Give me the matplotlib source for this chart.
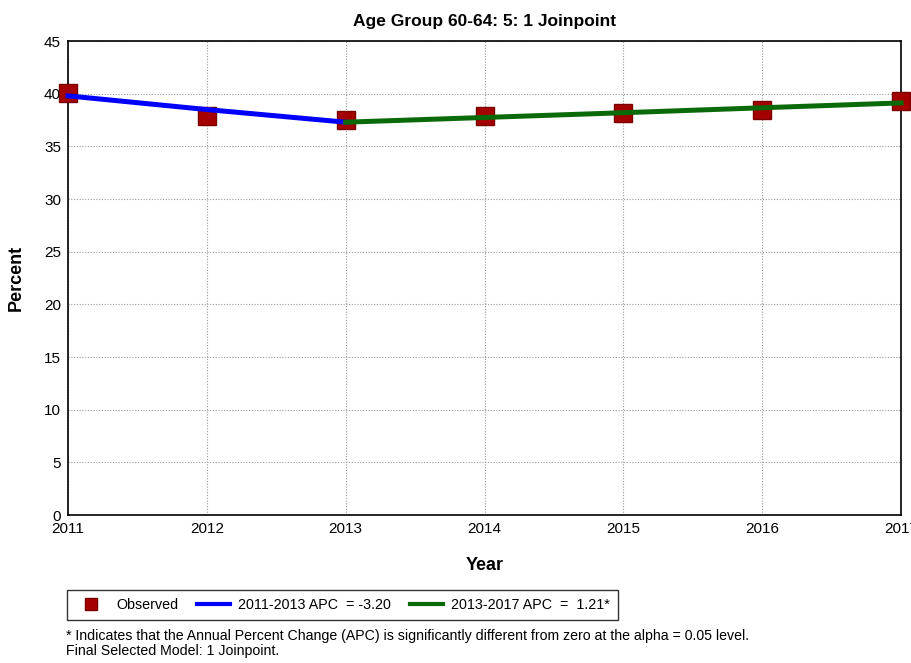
import matplotlib
matplotlib.use("Agg")
import matplotlib.pyplot as plt
from matplotlib.lines import Line2D

plt.rcParams["font.family"] = ["Liberation Sans", "DejaVu Sans"]

# observed percent by year
years = [2011, 2012, 2013, 2014, 2015, 2016, 2017]
observed = [40.1, 37.9, 37.5, 37.9, 38.2, 38.5, 39.3]

# joinpoint segments (fitted values)
seg1_years = [2011, 2012, 2013]
seg1_fit = [39.8, 38.5, 37.3]
seg2_years = [2013, 2014, 2015, 2016, 2017]
seg2_fit = [37.3, 37.75, 38.2, 38.67, 39.13]

seg1_label = "2011-2013 APC  = -3.20"
seg2_label = "2013-2017 APC  =  1.21*"

fig = plt.figure(figsize=(9.12, 6.63), dpi=100)
ax = fig.add_axes([0.0746, 0.2232, 0.9134, 0.7148])

ax.plot(years, observed, linestyle="none", marker="s", markersize=13,
        markerfacecolor="#a50000", markeredgecolor="#7a0000", zorder=3, clip_on=False)
ax.plot(seg1_years, seg1_fit, color="#0000ff", lw=3.6, zorder=4, clip_on=False)
ax.plot(seg2_years, seg2_fit, color="#0a6a0a", lw=3.6, zorder=4, clip_on=False)

ax.set_xlim(2011, 2017)
ax.set_ylim(0, 45)
ax.set_xticks(years)
ax.set_yticks(range(0, 46, 5))
ax.tick_params(length=0, labelsize=11, pad=5)
ax.grid(True, linestyle=(0, (1, 1.5)), color="#999999", lw=0.8)
for s in ax.spines.values():
    s.set_linewidth(1.2)

ax.set_title("Age Group 60-64: 5: 1 Joinpoint", fontsize=12.5, fontweight="bold", pad=11)
ax.set_xlabel("Year", fontsize=13, fontweight="bold", labelpad=15)
ax.set_ylabel("Percent", fontsize=13, fontweight="bold", labelpad=14)

handles = [
    Line2D([], [], linestyle="none", marker="s", markersize=8,
           markerfacecolor="#a50000", markeredgecolor="#7a0000"),
    Line2D([], [], color="#0000ff", lw=3),
    Line2D([], [], color="#0a6a0a", lw=3),
]
leg = fig.legend(handles, ["Observed", seg1_label, seg2_label], loc="upper left",
                 bbox_to_anchor=(0.073, 0.11), borderaxespad=0, ncol=3, fontsize=10.3,
                 frameon=True, fancybox=False, edgecolor="black",
                 handlelength=2.3, handletextpad=0.6, columnspacing=1.3, borderpad=0.55)
leg.get_frame().set_linewidth(1.0)

fig.text(0.072, 0.041, "* Indicates that the Annual Percent Change (APC) is significantly different from zero at the alpha = 0.05 level.",
         fontsize=10.2, va="center")
fig.text(0.072, 0.018, "Final Selected Model: 1 Joinpoint.", fontsize=10.2, va="center")

fig.savefig("out.png", dpi=100)
